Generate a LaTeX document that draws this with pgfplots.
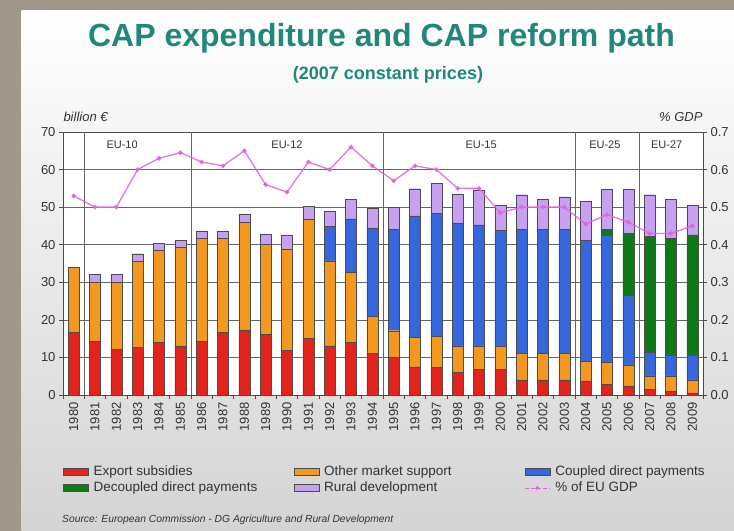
\documentclass[border=0pt]{standalone}
\usepackage{fontspec}
\setmainfont{Liberation Sans}
\usepackage{pgfplots}
\usepackage{pgfplotstable}
\pgfplotsset{compat=1.18}

\definecolor{bordercol}{HTML}{A1978B}
\definecolor{panelbot}{HTML}{D4D4D4}
\definecolor{titlecol}{HTML}{21877B}
\definecolor{cred}{HTML}{E2241A}
\definecolor{corange}{HTML}{F39A1E}
\definecolor{cblue}{HTML}{3767DD}
\definecolor{cgreen}{HTML}{0E7A16}
\definecolor{cpurple}{HTML}{C7A0F2}
\definecolor{cline}{HTML}{E066E0}
\definecolor{txt}{HTML}{333333}

\pgfplotsset{
    swatch legend/.style={legend image code/.code={\draw[##1, line width=0.5bp] (0bp,-3.5bp) rectangle (25bp,3.5bp);}},
    dotline legend/.style={legend image code/.code={%
        \draw[cline, line width=1.2bp, dash pattern=on 4bp off 2bp] (0bp,0bp) -- (25bp,0bp);
        \fill[cline] (12.5bp,0bp) circle (1.8bp);}},
}

% billion euro (2007 prices) per instrument, share of EU GDP in %
\pgfplotstableread{
x year red orange blue green purple gdp
0 1980 16.7 17.2 0 0 0 0.53
1 1981 14.2 15.7 0 0 2.3 0.50
2 1982 12.2 17.7 0 0 2.3 0.50
3 1983 12.7 22.8 0 0 2.1 0.60
4 1984 14.1 24.4 0 0 1.9 0.63
5 1985 13.1 26.2 0 0 1.8 0.645
6 1986 14.2 27.4 0 0 2.1 0.62
7 1987 16.7 24.9 0 0 2.1 0.61
8 1988 17.3 28.7 0 0 2.2 0.65
9 1989 16.2 24.0 0 0 2.6 0.56
10 1990 11.8 27.1 0 0 3.7 0.54
11 1991 15.0 31.8 0 0 3.4 0.62
12 1992 13.1 22.6 9.1 0 4.0 0.60
13 1993 14.1 18.6 14.2 0 5.2 0.66
14 1994 11.1 9.9 23.4 0 5.3 0.61
15 1995 10.0 7.1 26.9 0 5.9 0.57
16 1996 7.5 7.9 32.3 0 7.2 0.61
17 1997 7.5 8.2 32.7 0 8.0 0.60
18 1998 6.0 7.1 32.6 0 7.8 0.55
19 1999 6.8 6.3 32.2 0 9.3 0.55
20 2000 6.8 6.1 30.9 0 6.6 0.485
21 2001 4.0 7.1 33.0 0 9.2 0.50
22 2002 4.0 7.1 33.0 0 7.9 0.50
23 2003 4.0 7.1 33.0 0 8.6 0.50
24 2004 3.8 5.1 32.2 0 10.4 0.455
25 2005 2.9 5.8 33.9 1.5 10.7 0.48
26 2006 2.4 5.6 18.6 16.5 11.7 0.46
27 2007 1.5 3.6 6.4 30.7 11.1 0.43
28 2008 0.9 4.2 5.6 31.0 10.3 0.43
29 2009 0.6 3.4 6.7 31.9 7.8 0.45
}\capdata

\begin{document}
\begin{tikzpicture}[x=1bp,y=1bp]
% slide background
\fill[bordercol] (0,0) rectangle (734,531);
\shade[top color=white, bottom color=panelbot] (21.7,0) rectangle (734,520);

\node[anchor=base, text=titlecol, font=\fontsize{32bp}{36bp}\selectfont\bfseries]
  at (381.5,484) {CAP expenditure and CAP reform path};
\node[anchor=base, text=titlecol, font=\fontsize{18bp}{22bp}\selectfont\bfseries]
  at (388,451) {(2007 constant prices)};
\node[anchor=base west, text=txt, font=\fontsize{13bp}{15bp}\selectfont\itshape]
  at (60,409) {billion €};
\node[anchor=base east, text=txt, font=\fontsize{13bp}{15bp}\selectfont\itshape]
  at (706,409) {\% GDP};
\node[anchor=base west, inner sep=0pt, text=txt]
  at (62,8) {\resizebox{331bp}{!}{\itshape Source: European Commission - DG Agriculture and Rural Development}};

\begin{axis}[
    at={(63bp,136bp)}, anchor=south west,
    scale only axis, width=640bp, height=263bp,
    ybar stacked, bar width=0.52,
    xmin=-0.5, xmax=29.5, ymin=0, ymax=70,
    axis background/.style={fill=white},
    axis line style={black!70, line width=0.7bp},
    ytick={0,10,...,70}, ytick pos=left,
    xtick={0,...,29}, xtick pos=bottom,
    xticklabels from table={\capdata}{year},
    x tick label style={rotate=90, anchor=east},
    major x tick style={draw=none},
    minor xtick={-0.5,0.5,...,29.5},
    tick align=outside,
    major tick length=4bp, minor tick length=4bp,
    tick style={black!70, line width=0.6bp},
    ymajorgrids, major grid style={black!60, line width=0.6bp},
    extra x ticks={0.5,5.5,14.5,23.5,26.5}, extra x tick labels={},
    extra x tick style={grid=major},
    tick label style={font=\fontsize{13bp}{15bp}\selectfont, text=txt},
    /pgf/number format/assume math mode=true,
    legend columns=3, legend cell align=left,
    legend style={
        at={(0,-0.262)}, anchor=north west, draw=none, fill=none,
        font=\fontsize{13.5bp}{15bp}\selectfont, text=txt,
        inner sep=0pt, row sep=0pt, column sep=0pt,
        nodes={inner sep=2bp, text height=9.5bp, text depth=2.5bp},
        /tikz/every odd column/.style={column sep=3bp},
    },
]
\addplot[fill=cred, draw=black!70, line width=0.4bp, swatch legend] table[x=x, y=red] {\capdata};
\addlegendentry{\makebox[198bp][l]{Export subsidies}}
\addplot[fill=corange, draw=black!70, line width=0.4bp, swatch legend] table[x=x, y=orange] {\capdata};
\addlegendentry{\makebox[198bp][l]{Other market support}}
\addplot[fill=cblue, draw=black!70, line width=0.4bp, swatch legend] table[x=x, y=blue] {\capdata};
\addlegendentry{\makebox[198bp][l]{Coupled direct payments}}
\addplot[fill=cgreen, draw=black!70, line width=0.4bp, swatch legend] table[x=x, y=green] {\capdata};
\addlegendentry{\makebox[198bp][l]{Decoupled direct payments}}
\addplot[fill=cpurple, draw=black!70, line width=0.4bp, swatch legend] table[x=x, y=purple] {\capdata};
\addlegendentry{\makebox[198bp][l]{Rural development}}
\addlegendimage{dotline legend}
\addlegendentry{\makebox[198bp][l]{\% of EU GDP}}

\node[font=\fontsize{11bp}{13bp}\selectfont, text=txt] at (axis cs:2.27,66.5) {EU-10};
\node[font=\fontsize{11bp}{13bp}\selectfont, text=txt] at (axis cs:10,66.5) {EU-12};
\node[font=\fontsize{11bp}{13bp}\selectfont, text=txt] at (axis cs:19.1,66.5) {EU-15};
\node[font=\fontsize{11bp}{13bp}\selectfont, text=txt] at (axis cs:24.9,66.5) {EU-25};
\node[font=\fontsize{11bp}{13bp}\selectfont, text=txt] at (axis cs:27.8,66.5) {EU-27};
\end{axis}

\begin{axis}[
    at={(63bp,136bp)}, anchor=south west,
    scale only axis, width=640bp, height=263bp,
    xmin=-0.5, xmax=29.5, ymin=0, ymax=0.7,
    axis x line=none, axis y line*=right,
    axis line style={black!70, line width=0.7bp},
    ytick={0,0.1,0.2,0.3,0.4,0.5,0.6,0.7},
    yticklabel style={/pgf/number format/.cd, fixed, fixed zerofill, precision=1},
    tick align=outside, major tick length=4bp,
    tick style={black!70, line width=0.6bp},
    tick label style={font=\fontsize{13bp}{15bp}\selectfont, text=txt},
    /pgf/number format/assume math mode=true,
]
\addplot[cline, opacity=0.9, line width=1.3bp, mark=*, mark size=1.6bp] table[x=x, y=gdp] {\capdata};
\end{axis}

\pgfresetboundingbox
\useasboundingbox (0,0) rectangle (734,531);
\end{tikzpicture}
\end{document}
